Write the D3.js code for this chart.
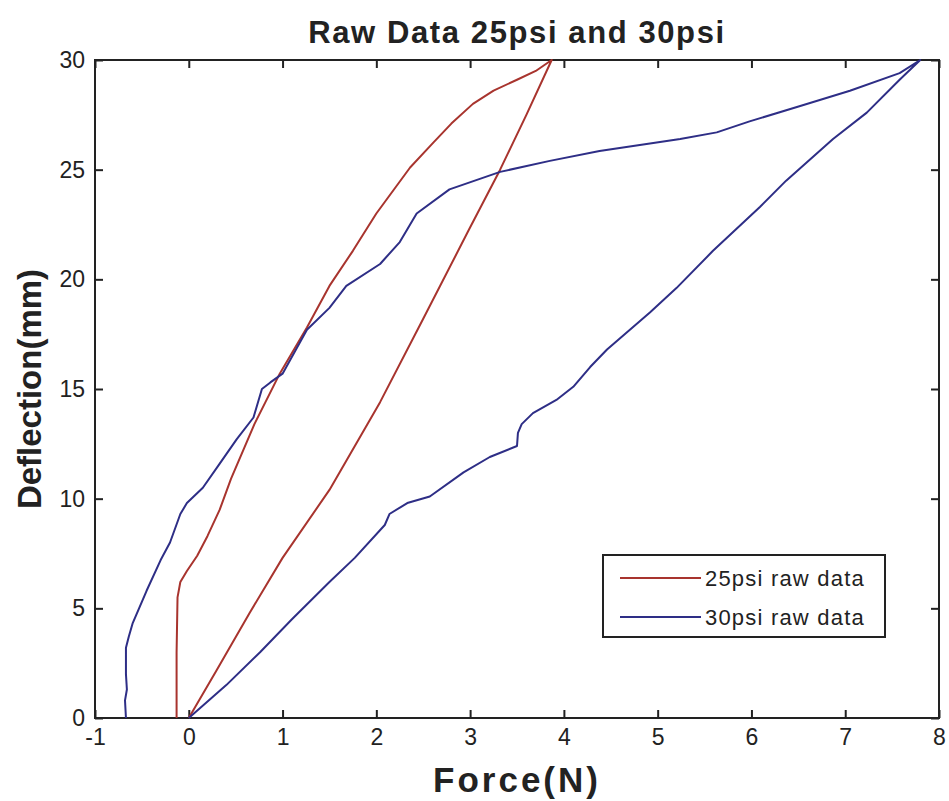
<!DOCTYPE html>
<html>
<head>
<meta charset="utf-8">
<script src="https://cdn.jsdelivr.net/npm/d3@7"></script>
<style>
  body { margin: 0; background: #fff; }
  text { font-family: "Liberation Sans", Arial, sans-serif; fill: #222; }
</style>
</head>
<body>
<div id="chart"></div>
<script>
// Chart data (force N, deflection mm)
var psi25Force = [0, 0.3, 0.65, 1.0, 1.5, 2.04, 2.5, 2.98, 3.32, 3.6, 3.87,
    3.7, 3.5, 3.25, 3.03, 2.8, 2.6, 2.36, 2.0, 1.75, 1.5, 1.26, 0.97, 0.7, 0.45, 0.33, 0.2, 0.09, -0.02, -0.09, -0.12, -0.13, -0.13];
var psi25Defl = [0, 2.2, 4.8, 7.3, 10.4, 14.4, 18.2, 22.2, 25, 27.5, 30,
    29.5, 29.1, 28.6, 28.0, 27.1, 26.2, 25.1, 23.0, 21.3, 19.7, 17.8, 15.7, 13.4, 10.9, 9.5, 8.3, 7.4, 6.7, 6.2, 5.5, 3, 0];

var psi30Force = [-0.67, -0.68, -0.66, -0.67, -0.67, -0.64, -0.6, -0.45, -0.3, -0.2, -0.09, -0.02, 0.15, 0.33, 0.51, 0.69, 0.78, 0.87, 1.0, 1.26, 1.5, 1.68, 2.04, 2.25, 2.43, 2.78, 3.32, 3.85, 4.38, 5.24, 5.63, 5.98, 6.52, 7.05, 7.58, 7.8,
    7.58, 7.23, 6.87, 6.37, 6.09, 5.59, 5.2, 4.92, 4.46, 4.28, 4.1, 3.92, 3.67, 3.55, 3.51, 3.5, 3.21, 2.93, 2.57, 2.33, 2.14, 2.09, 1.77, 1.5, 1.1, 0.76, 0.4, 0];
var psi30Defl = [0, 0.8, 1.3, 2, 3.2, 3.7, 4.3, 5.8, 7.2, 8.0, 9.3, 9.8, 10.5, 11.6, 12.7, 13.7, 15.0, 15.3, 15.7, 17.7, 18.7, 19.7, 20.7, 21.7, 23.0, 24.1, 24.9, 25.4, 25.85, 26.4, 26.7, 27.2, 27.9, 28.6, 29.4, 30,
    29.1, 27.6, 26.4, 24.5, 23.3, 21.3, 19.6, 18.5, 16.8, 16.0, 15.1, 14.5, 13.9, 13.4, 13.0, 12.4, 11.9, 11.2, 10.1, 9.8, 9.3, 8.8, 7.3, 6.2, 4.5, 3.0, 1.5, 0];

var xTicks = [-1, 0, 1, 2, 3, 4, 5, 6, 7, 8];
var yTicks = [0, 5, 10, 15, 20, 25, 30];
var seriesNames = ["25psi raw data", "30psi raw data"];
var seriesColors = ["#a8342e", "#2e2e86"];

var svgWidth = 949;
var svgHeight = 801;
var margin = { top: 60, right: 10, bottom: 83, left: 95 };
var width = svgWidth - margin.left - margin.right;
var height = svgHeight - margin.top - margin.bottom;

var svg = d3.select("#chart").append("svg")
    .attr("width", svgWidth)
    .attr("height", svgHeight);

var chartGroup = svg.append("g")
    .attr("transform", `translate(${margin.left}, ${margin.top})`);

var x = d3.scaleLinear().domain([-1, 8]).range([0, width]);
var y = d3.scaleLinear().domain([0, 30]).range([height, 0]);

// box
chartGroup.append("rect")
    .attr("width", width).attr("height", height)
    .attr("fill", "none").attr("stroke", "#222").attr("stroke-width", 2);

// ticks inside on all four sides
function styleAxis(g) {
    g.select(".domain").remove();
    g.selectAll(".tick line").attr("stroke", "#222").attr("stroke-width", 2);
    g.selectAll(".tick text").style("font-size", "23px").attr("fill", "#222");
}
chartGroup.append("g").attr("transform", `translate(0, ${height})`)
    .call(d3.axisBottom(x).tickValues(xTicks).tickSize(-8).tickPadding(11).tickFormat(d => String(d)))
    .call(styleAxis);
chartGroup.append("g")
    .call(d3.axisTop(x).tickValues(xTicks).tickSize(-8).tickFormat(""))
    .call(styleAxis);
chartGroup.append("g")
    .call(d3.axisLeft(y).tickValues(yTicks).tickSize(-8).tickPadding(10).tickFormat(d => String(d)))
    .call(styleAxis);
chartGroup.append("g").attr("transform", `translate(${width}, 0)`)
    .call(d3.axisRight(y).tickValues(yTicks).tickSize(-8).tickFormat(""))
    .call(styleAxis);

// lines
var line = d3.line().x(d => x(d[0])).y(d => y(d[1]));
var series = [
    d3.zip(psi25Force, psi25Defl),
    d3.zip(psi30Force, psi30Defl)
];
series.forEach(function(pts, i) {
    chartGroup.append("path")
        .datum(pts)
        .attr("d", line)
        .attr("fill", "none")
        .attr("stroke", seriesColors[i])
        .attr("stroke-width", 2)
        .attr("stroke-linejoin", "round");
});

// legend
var legend = svg.append("g").attr("transform", "translate(603, 555)");
legend.append("rect")
    .attr("width", 282).attr("height", 82)
    .attr("fill", "#fff").attr("stroke", "#222").attr("stroke-width", 2);
seriesNames.forEach(function(name, i) {
    var ly = 23 + i * 39;
    legend.append("line")
        .attr("x1", 17).attr("x2", 98).attr("y1", ly).attr("y2", ly)
        .attr("stroke", seriesColors[i]).attr("stroke-width", 2);
    legend.append("text")
        .attr("x", 102).attr("y", ly + 8)
        .style("font-size", "22px")
        .style("letter-spacing", "1.2px")
        .text(name);
});

// title and axis labels
svg.append("text")
    .attr("x", margin.left + width / 2).attr("y", 43)
    .attr("text-anchor", "middle")
    .style("font-size", "31px").style("font-weight", "bold")
    .style("letter-spacing", "1.6px")
    .text("Raw Data 25psi and 30psi");

svg.append("text")
    .attr("x", margin.left + width / 2).attr("y", 792)
    .attr("text-anchor", "middle")
    .style("font-size", "35px").style("font-weight", "bold")
    .style("letter-spacing", "3px")
    .text("Force(N)");

svg.append("text")
    .attr("transform", `translate(41, ${margin.top + height / 2}) rotate(-90)`)
    .attr("text-anchor", "middle")
    .style("font-size", "33px").style("font-weight", "bold")
    .text("Deflection(mm)");
</script>
</body>
</html>
